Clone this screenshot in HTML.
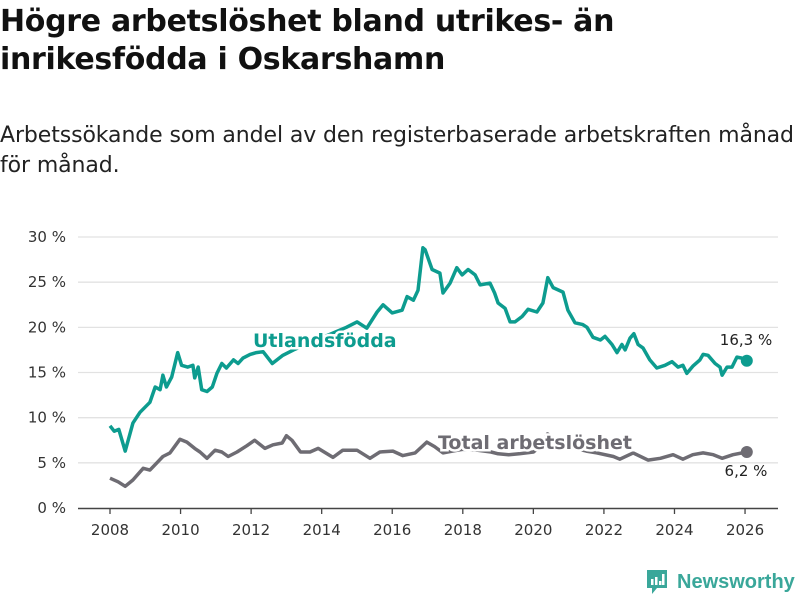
<!DOCTYPE html>
<html><head><meta charset="utf-8">
<style>
body{margin:0;background:#fff;font-family:"DejaVu Sans","Liberation Sans",sans-serif;}
#wrap{position:relative;width:800px;height:600px;overflow:hidden;}
h1{position:absolute;left:0;top:3px;margin:0;font-size:30px;line-height:38px;font-weight:bold;color:#111;letter-spacing:-0.3px;}
p.sub{position:absolute;left:0;top:121px;margin:0;font-size:22px;line-height:30px;color:#222;letter-spacing:-0.1px;}
svg{position:absolute;left:0;top:0;}
</style></head><body>
<div id="wrap">
<h1>Högre arbetslöshet bland utrikes- än<br>inrikesfödda i Oskarshamn</h1>
<p class="sub">Arbetssökande som andel av den registerbaserade arbetskraften månad<br>för månad.</p>
<svg id="chart" width="800" height="600"></svg>
</div>
<script>
const yTicks=[0,5,10,15,20,25,30];
const xTicks=[2008,2010,2012,2014,2016,2018,2020,2022,2024,2026];
const utlYears=[2008.0,2008.12,2008.25,2008.43,2008.65,2008.85,2009.13,2009.28,2009.42,2009.5,2009.6,2009.75,2009.92,2010.03,2010.2,2010.35,2010.4,2010.5,2010.6,2010.75,2010.9,2011.03,2011.17,2011.3,2011.5,2011.63,2011.77,2011.97,2012.15,2012.34,2012.6,2012.9,2013.2,2013.5,2013.8,2014.1,2014.4,2014.7,2015.0,2015.28,2015.57,2015.74,2016.0,2016.28,2016.42,2016.6,2016.73,2016.87,2016.93,2017.13,2017.35,2017.44,2017.64,2017.83,2017.98,2018.15,2018.35,2018.49,2018.77,2018.9,2019.0,2019.2,2019.34,2019.48,2019.68,2019.85,2020.1,2020.27,2020.41,2020.56,2020.84,2020.98,2021.18,2021.4,2021.52,2021.69,2021.9,2022.03,2022.23,2022.37,2022.51,2022.6,2022.74,2022.85,2022.97,2023.11,2023.3,2023.5,2023.73,2023.93,2024.1,2024.24,2024.35,2024.52,2024.72,2024.81,2024.95,2025.15,2025.29,2025.35,2025.49,2025.63,2025.77,2025.91,2026.05];
const utlValues=[9.1,8.5,8.7,6.3,9.4,10.6,11.7,13.4,13.1,14.7,13.4,14.5,17.2,15.8,15.6,15.8,14.4,15.6,13.1,12.9,13.4,14.9,16.0,15.5,16.4,16.0,16.6,17.0,17.2,17.3,16.0,16.9,17.5,18.0,18.5,19.0,19.5,20.0,20.6,19.9,21.7,22.5,21.6,21.9,23.4,23.0,24.1,28.8,28.6,26.4,26.0,23.8,24.9,26.6,25.8,26.4,25.8,24.7,24.9,23.8,22.7,22.1,20.6,20.6,21.2,22.0,21.7,22.7,25.5,24.4,23.9,21.9,20.5,20.3,20.0,18.9,18.6,19.0,18.1,17.2,18.1,17.5,18.8,19.3,18.1,17.7,16.4,15.5,15.8,16.2,15.6,15.8,14.9,15.7,16.4,17.0,16.9,16.0,15.6,14.7,15.6,15.6,16.7,16.6,16.3];
const totYears=[2008.0,2008.23,2008.43,2008.65,2008.94,2009.13,2009.33,2009.5,2009.7,2009.98,2010.18,2010.4,2010.55,2010.75,2010.98,2011.17,2011.35,2011.6,2011.88,2012.1,2012.39,2012.62,2012.88,2013.0,2013.16,2013.4,2013.67,2013.9,2014.32,2014.6,2015.0,2015.37,2015.65,2016.02,2016.3,2016.65,2016.98,2017.2,2017.44,2017.7,2018.0,2018.4,2018.8,2019.0,2019.3,2019.6,2020.0,2020.25,2020.4,2020.6,2020.9,2021.2,2021.5,2021.8,2022.27,2022.45,2022.83,2023.25,2023.6,2023.96,2024.24,2024.52,2024.81,2025.1,2025.35,2025.66,2026.05];
const totValues=[3.3,2.9,2.4,3.1,4.4,4.2,5.0,5.7,6.1,7.6,7.3,6.6,6.2,5.5,6.4,6.2,5.7,6.2,6.9,7.5,6.6,7.0,7.2,8.0,7.5,6.2,6.2,6.6,5.6,6.4,6.4,5.5,6.2,6.3,5.8,6.1,7.3,6.8,6.1,6.3,6.5,6.4,6.2,6.0,5.9,6.0,6.2,7.0,8.2,7.6,7.0,6.6,6.3,6.1,5.7,5.4,6.1,5.3,5.5,5.9,5.4,5.9,6.1,5.9,5.5,5.9,6.2];
const NS='http://www.w3.org/2000/svg';
const svg=document.getElementById('chart');
const X=v=>110+(v-2008)*35.28;
const Y=v=>508-v*9.033;
function mk(t,a){const e=document.createElementNS(NS,t);for(const k in a)e.setAttribute(k,a[k]);svg.appendChild(e);return e;}
yTicks.forEach(t=>{
  if(t>0){const g=mk('line',{x1:78,x2:778,y1:Y(t),y2:Y(t),stroke:'#e2e2e2','stroke-width':1.3});
  
  }
  const l=mk('text',{x:66,y:Y(t)+5,'text-anchor':'end','font-size':15,fill:'#333'});
  l.textContent=t+' %';
  
  
});
const ax=mk('line',{x1:78,x2:778,y1:508.5,y2:508.5,stroke:'#444','stroke-width':1.5});


xTicks.forEach(t=>{
  const tk=mk('line',{x1:X(t),x2:X(t),y1:509,y2:514,stroke:'#444','stroke-width':1.3});
  
  
  const l=mk('text',{x:X(t),y:535,'text-anchor':'middle','font-size':15,fill:'#333'});
  l.textContent=t;
  
  
});
function path(xs,vs){return xs.map((x,i)=>(i?'L':'M')+X(x).toFixed(1)+','+Y(vs[i]).toFixed(1)).join('');}
const pt=mk('path',{d:path(totYears,totValues),fill:'none',stroke:'#6e6c73','stroke-width':3.5,'stroke-linejoin':'round'});


const pu=mk('path',{d:path(utlYears,utlValues),fill:'none',stroke:'#0d9c8f','stroke-width':3.5,'stroke-linejoin':'round'});


const lu=utlYears.length-1, lt=totYears.length-1;
const du=mk('circle',{cx:X(utlYears[lu]),cy:Y(utlValues[lu]),r:6,fill:'#0d9c8f'});


const dt=mk('circle',{cx:X(totYears[lt]),cy:Y(totValues[lt]),r:6,fill:'#6e6c73'});


const vu=mk('text',{x:746,y:345,'text-anchor':'middle','font-size':15,fill:'#222'});
vu.textContent='16,3 %';


const vt=mk('text',{x:746,y:476,'text-anchor':'middle','font-size':15,fill:'#222'});
vt.textContent='6,2 %';


const su=mk('text',{x:253,y:347,'font-size':19,'font-weight':'bold',fill:'#0d9c8f',stroke:'#fff','stroke-width':5,'paint-order':'stroke'});
su.textContent='Utlandsfödda';


const st=mk('text',{x:438,y:449,'font-size':19,'font-weight':'bold',fill:'#6e6c73',stroke:'#fff','stroke-width':5,'paint-order':'stroke'});
st.textContent='Total arbetslöshet';


</script>
<div style="position:absolute;left:645px;top:568px;height:28px;display:flex;align-items:center;">
<svg width="24" height="28" viewBox="0 0 24 28" style="position:static"><path d="M2 2h20v18H12l-5 6v-6H2z" fill="#3aa79a"/><rect x="6" y="11" width="2.5" height="6" fill="#fff"/><rect x="10" y="9" width="2.5" height="8" fill="#fff"/><rect x="14" y="13" width="2.5" height="4" fill="#fff"/><rect x="17" y="6" width="2.5" height="11" fill="#fff"/></svg>
<span style="margin-left:8px;font-size:20px;font-weight:bold;color:#3aa79a;font-family:'Liberation Sans',sans-serif;">Newsworthy</span>
</div>
</body></html>
